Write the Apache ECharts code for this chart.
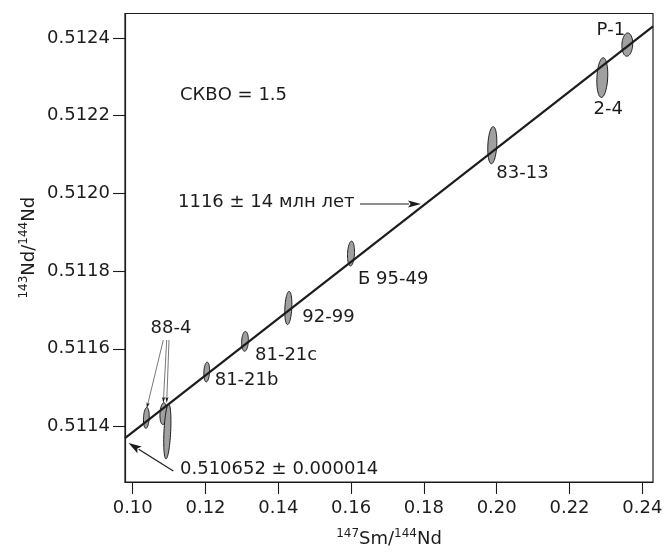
<!DOCTYPE html>
<html>
<head>
<meta charset="utf-8">
<script src="https://cdn.jsdelivr.net/npm/echarts@6/dist/echarts.min.js"></script>
<style>html,body{margin:0;padding:0;background:#fff}#main{width:666px;height:555px}</style>
</head>
<body>
<div id="main"></div>
<script>
// образцы и их отношения
let samples = ['88-4', '88-4', '88-4', '81-21b', '81-21c', '92-99', 'Б 95-49', '83-13', '2-4', 'Р-1']
let smNd = [0.10374, 0.10841, 0.10951, 0.12033, 0.13085, 0.14275, 0.15997, 0.19879, 0.22901, 0.23588]
let ndNd = [0.511422, 0.511433, 0.511387, 0.51154, 0.511619, 0.511705, 0.511845, 0.512124, 0.512298, 0.512383]
// полуоси эллипсов ошибок
let smErr = [0.00078, 0.00092, 0.00092, 0.00078, 0.00092, 0.00095, 0.00095, 0.00122, 0.00148, 0.00148]
let ndErr = [0.0000269, 0.0000282, 0.0000704, 0.0000256, 0.0000256, 0.0000427, 0.000032, 0.0000479, 0.0000512, 0.00003]
// изохрона
let isoX = [0.09788, 0.24294]
let isoY = [0.51137, 0.51243]
let xTicks = [0.10, 0.12, 0.14, 0.16, 0.18, 0.20, 0.22, 0.24]
let yTicks = [0.5114, 0.5116, 0.5118, 0.5120, 0.5122, 0.5124]

let font = '"DejaVu Sans", sans-serif'
let ink = '#1e1b1c'
// смещение подписей от центра эллипса, px
let labelPos = [null, null, null, [8, 8, 'left'], [10, 14, 'left'], [14, 9, 'left'], [7, 26, 'left'], [4, 28, 'left'], [6, 32, 'center'], [-2, -14, 'right']]

function renderEllipse(params, api) {
	let c = api.coord([api.value(0), api.value(1)])
	let s = api.size([api.value(2), api.value(3)])
	let rx = s[0], ry = s[1], th = 0.05
	let pts = []
	for (let i = 0; i < 60; i++) {
		let t = i / 60 * Math.PI * 2
		let ex = rx * Math.cos(t), ey = ry * Math.sin(t)
		pts.push([c[0] + ex * Math.cos(th) - ey * Math.sin(th), c[1] + ex * Math.sin(th) + ey * Math.cos(th)])
	}
	let children = [{
		type: 'polygon',
		shape: { points: pts },
		style: { fill: '#a0a0a0', stroke: ink, lineWidth: 1 }
	}]
	let lp = labelPos[params.dataIndex]
	if (lp) {
		children.push({
			type: 'text',
			x: c[0] + lp[0],
			y: c[1] + lp[1],
			style: { text: samples[params.dataIndex], font: '18px ' + font, fill: ink, align: lp[2], verticalAlign: 'middle', textAlign: lp[2], textVerticalAlign: 'middle' }
		})
	}
	return { type: 'group', children: children }
}

// стрелка: линия + треугольный наконечник
function arrow(x1, y1, x2, y2, len, hw, lw) {
	let dx = x2 - x1, dy = y2 - y1, d = Math.sqrt(dx * dx + dy * dy)
	let ux = dx / d, uy = dy / d
	let bx = x2 - ux * len, by = y2 - uy * len
	return [{
		type: 'line',
		shape: { x1: x1, y1: y1, x2: bx + ux * 1, y2: by + uy * 1 },
		style: { stroke: ink, lineWidth: lw }
	}, {
		type: 'polygon',
		shape: { points: [[x2, y2], [bx - uy * hw, by + ux * hw], [bx + ux * len * 0.2, by + uy * len * 0.2], [bx + uy * hw, by - ux * hw]] },
		style: { fill: ink }
	}]
}

function label(text, x, y, align) {
	return {
		type: 'text', x: x, y: y,
		style: { text: text, font: '18px ' + font, fill: ink, align: align || 'left', verticalAlign: 'middle', textAlign: align || 'left', textVerticalAlign: 'middle' }
	}
}

let graphics = [
	label('СКВО = 1.5', 180, 95),
	label('1116 ± 14 млн лет', 178, 202),
	label('0.510652 ± 0.000014', 180, 469),
	label('88-4', 171, 328, 'center')
]
graphics = graphics
	.concat(arrow(360, 204, 421, 204, 13, 3.5, 1))
	.concat(arrow(173.3, 471, 128.5, 443, 13, 4, 1.2))
	.concat(arrow(163.3, 340, 146.7, 408.5, 6, 1.6, 0.6))
	.concat(arrow(166.7, 340, 163.3, 403, 6, 1.6, 0.6))
	.concat(arrow(169, 340, 166.7, 403, 6, 1.6, 0.6))

var chart = echarts.init(document.getElementById('main'))
chart.setOption({
	animation: false,
	grid: {
		left: 125,
		right: 13,
		top: 13.5,
		bottom: 70,
		show: true,
		borderColor: ink,
		borderWidth: 1.2
	},
	xAxis: {
		type: 'value',
		min: isoX[0],
		max: isoX[1],
		name: '{s|147}Sm/{s|144}Nd',
		nameLocation: 'middle',
		nameGap: 46,
		nameMoveOverlap: false,
		nameTextStyle: {
			fontSize: 18, fontFamily: font, color: ink, lineHeight: 22,
			rich: { s: { fontSize: 12, fontFamily: font, color: ink, verticalAlign: 'top', lineHeight: 14 } }
		},
		splitLine: { show: false },
		axisLine: { show: true, lineStyle: { color: ink, width: 1.2 } },
		axisTick: { show: true, inside: false, length: 12, customValues: xTicks, lineStyle: { color: ink, width: 1.1 } },
		axisLabel: {
			customValues: xTicks,
			margin: 17,
			fontSize: 18,
			fontFamily: font,
			color: ink,
			formatter: function(v) { return v.toFixed(2) }
		}
	},
	yAxis: {
		type: 'value',
		min: 0.511257,
		max: 0.512463,
		name: '{s|143}Nd/{s|144}Nd',
		nameLocation: 'middle',
		nameGap: 85,
		nameRotate: 90,
		nameMoveOverlap: false,
		nameTextStyle: {
			fontSize: 18, fontFamily: font, color: ink, lineHeight: 22,
			rich: { s: { fontSize: 12, fontFamily: font, color: ink, verticalAlign: 'top', lineHeight: 14 } }
		},
		splitLine: { show: false },
		axisLine: { show: true, lineStyle: { color: ink, width: 1.2 } },
		axisTick: { show: true, inside: false, length: 12, customValues: yTicks, lineStyle: { color: ink, width: 1.1 } },
		axisLabel: {
			customValues: yTicks,
			margin: 15,
			fontSize: 18,
			fontFamily: font,
			color: ink,
			formatter: function(v) { return v.toFixed(4) }
		}
	},
	series: [{
		type: 'custom',
		renderItem: renderEllipse,
		encode: { x: 0, y: 1 },
		z: 2,
		data: smNd.map(function(x, i) { return [x, ndNd[i], smErr[i], ndErr[i]] })
	}, {
		type: 'line',
		symbol: 'none',
		z: 3,
		lineStyle: { color: ink, width: 2.2 },
		data: isoX.map(function(x, i) { return [x, isoY[i]] })
	}],
	graphic: graphics
})
</script>
</body>
</html>
